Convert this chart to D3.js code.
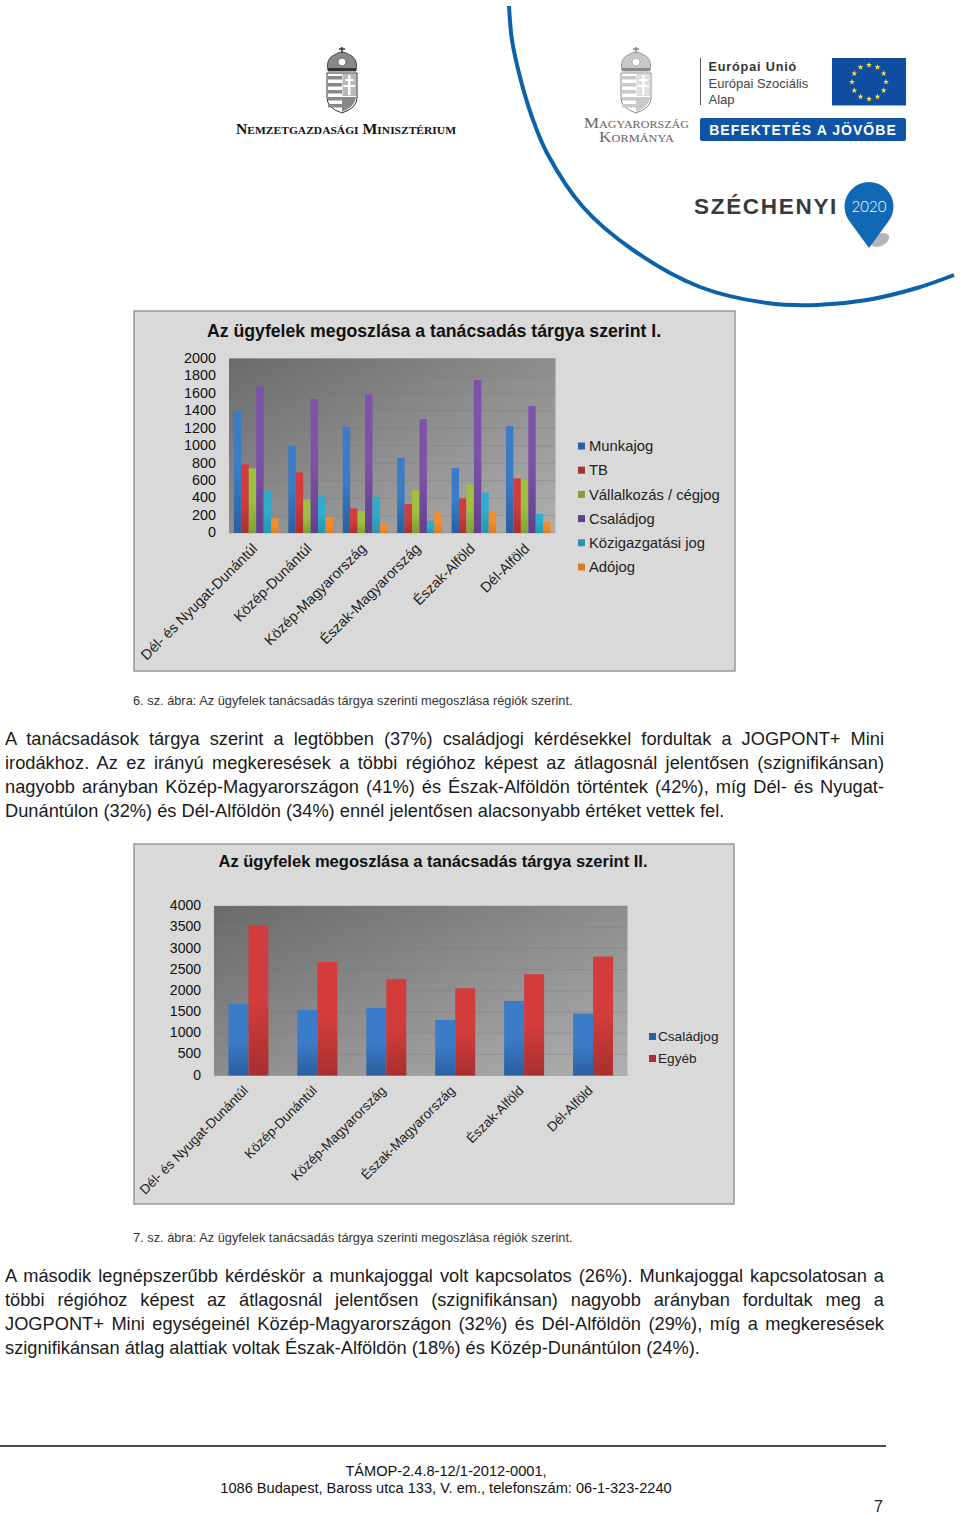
<!DOCTYPE html>
<html>
<head>
<meta charset="utf-8">
<title>Az ügyfelek megoszlása</title>
<script src="https://cdnjs.cloudflare.com/ajax/libs/d3/7.8.5/d3.min.js"></script>
<style>
	html, body { margin: 0; padding: 0; background: #fff; }
	svg { display: block; }
	text { font-family: "Liberation Sans", Arial, sans-serif; }
</style>
</head>
<body>
<svg id="page" width="960" height="1514"></svg>
<script>
/* chart data */
const regions = ["Dél- és Nyugat-Dunántúl", "Közép-Dunántúl", "Közép-Magyarország", "Észak-Magyarország", "Észak-Alföld", "Dél-Alföld"];

const series1 = ["Munkajog", "TB", "Vállalkozás / cégjog", "Családjog", "Közigazgatási jog", "Adójog"];
const munkajog = [1389, 1000, 1218, 863, 744, 1225];
const tb = [786, 695, 282, 332, 397, 626];
const vallalkozas = [740, 385, 252, 492, 557, 610];
const csaladjog = [1675, 1538, 1588, 1305, 1752, 1454];
const kozigazgatasi = [485, 420, 416, 141, 465, 221];
const adojog = [168, 179, 99, 237, 240, 130];

const series2 = ["Családjog", "Egyéb"];
const csaladjog2 = [1690, 1548, 1595, 1312, 1760, 1462];
const egyeb = [3552, 2680, 2271, 2059, 2389, 2805];

const ticks1 = [0, 200, 400, 600, 800, 1000, 1200, 1400, 1600, 1800, 2000];
const ticks2 = [0, 500, 1000, 1500, 2000, 2500, 3000, 3500, 4000];

const title1 = "Az ügyfelek megoszlása a tanácsadás tárgya szerint I.";
const title2 = "Az ügyfelek megoszlása a tanácsadás tárgya szerint II.";
const caption1 = "6. sz. ábra: Az ügyfelek tanácsadás tárgya szerinti megoszlása régiók szerint.";
const caption2 = "7. sz. ábra: Az ügyfelek tanácsadás tárgya szerinti megoszlása régiók szerint.";

const para1 = [
	"A tanácsadások tárgya szerint a legtöbben (37%) családjogi kérdésekkel fordultak a JOGPONT+ Mini",
	"irodákhoz. Az ez irányú megkeresések a többi régióhoz képest az átlagosnál jelentősen (szignifikánsan)",
	"nagyobb arányban Közép-Magyarországon (41%) és Észak-Alföldön történtek (42%), míg Dél- és Nyugat-",
	"Dunántúlon (32%) és Dél-Alföldön (34%) ennél jelentősen alacsonyabb értéket vettek fel."
];
const para2 = [
	"A második legnépszerűbb kérdéskör a munkajoggal volt kapcsolatos (26%). Munkajoggal kapcsolatosan a",
	"többi régióhoz képest az átlagosnál jelentősen (szignifikánsan) nagyobb arányban fordultak meg a",
	"JOGPONT+ Mini egységeinél Közép-Magyarországon (32%) és Dél-Alföldön (29%), míg a megkeresések",
	"szignifikánsan átlag alattiak voltak Észak-Alföldön (18%) és Közép-Dunántúlon (24%)."
];

const barColors = {
	blue: ["#3a7cc8", "#2b5f9f"],
	red: ["#d23c3c", "#a83030"],
	green: ["#9fc040", "#80a036"],
	purple: ["#7d52a8", "#61408c"],
	cyan: ["#2fabcb", "#2793b0"],
	orange: ["#f28c2c", "#da7e26"]
};

const svg = d3.select("#page");
const defs = svg.append("defs");

/* bar gradients: lighter at the top, darker at the base */
Object.keys(barColors).forEach((name) => {
	const g = defs.append("linearGradient")
		.attr("id", "bar-" + name)
		.attr("x1", 0).attr("y1", 0).attr("x2", 0).attr("y2", 1);
	g.append("stop").attr("offset", "0%").attr("stop-color", barColors[name][0]);
	g.append("stop").attr("offset", "50%").attr("stop-color", barColors[name][0]);
	g.append("stop").attr("offset", "100%").attr("stop-color", barColors[name][1]);
});

const plotGrad = defs.append("linearGradient")
	.attr("id", "plot-bg")
	.attr("x1", 0).attr("y1", 0).attr("x2", 1).attr("y2", 1);
plotGrad.append("stop").attr("offset", "0%").attr("stop-color", "#6a6a6a");
plotGrad.append("stop").attr("offset", "100%").attr("stop-color", "#b0b0b0");

function drawChart(opt) {
	const g = svg.append("g").attr("class", "chart");

	g.append("rect")
		.attr("x", opt.panel.x).attr("y", opt.panel.y)
		.attr("width", opt.panel.w).attr("height", opt.panel.h)
		.attr("fill", "#d9d9d9")
		.attr("stroke", "#989898")
		.attr("stroke-width", 1.5);

	g.append("text")
		.attr("x", opt.titleX).attr("y", opt.titleY)
		.attr("text-anchor", "middle")
		.attr("font-weight", "bold")
		.attr("font-size", opt.titleSize)
		.attr("fill", "#111")
		.text(opt.title);

	const x = d3.scaleBand()
		.domain(regions)
		.range([opt.plot.x0, opt.plot.x1])
		.paddingInner(opt.padding)
		.paddingOuter(opt.padding / 2);
	const inner = d3.scaleBand()
		.domain(opt.series)
		.range([0, x.bandwidth()]);
	const y = d3.scaleLinear()
		.domain([0, opt.max])
		.range([opt.plot.y0, opt.plot.y1]);

	g.append("rect")
		.attr("x", opt.plot.x0).attr("y", opt.plot.y1)
		.attr("width", opt.plot.x1 - opt.plot.x0)
		.attr("height", opt.plot.y0 - opt.plot.y1)
		.attr("fill", "url(#plot-bg)");

	g.append("g").selectAll("line")
		.data(opt.ticks)
		.join("line")
		.attr("x1", opt.plot.x0).attr("x2", opt.plot.x1)
		.attr("y1", (d) => y(d)).attr("y2", (d) => y(d))
		.attr("stroke", "#777")
		.attr("stroke-opacity", 0.35);

	const axis = g.append("g")
		.attr("transform", `translate(${opt.plot.x0},-0.8)`)
		.call(d3.axisLeft(y).tickValues(opt.ticks).tickSize(0).tickPadding(opt.tickPad).tickFormat(d3.format("d")));
	axis.select(".domain").remove();
	axis.selectAll("text")
		.attr("font-size", opt.tickSize)
		.attr("font-family", "Liberation Sans")
		.attr("fill", "#111");

	opt.series.forEach((name, i) => {
		g.append("g").selectAll("rect")
			.data(opt.values[i])
			.join("rect")
			.attr("x", (d, j) => x(regions[j]) + inner(name))
			.attr("y", (d) => y(d))
			.attr("width", inner.bandwidth())
			.attr("height", (d) => y(0) - y(d))
			.attr("fill", `url(#bar-${opt.colors[i]})`);
	});

	g.append("g").selectAll("text")
		.data(regions)
		.join("text")
		.attr("transform", (d) => `translate(${x(d) + x.bandwidth() / 2 + opt.labelDx},${opt.plot.y0 + opt.labelDy}) rotate(-45)`)
		.attr("text-anchor", "end")
		.attr("font-size", opt.labelSize)
		.attr("fill", "#222")
		.text((d) => d);

	const legend = g.append("g").selectAll("g")
		.data(opt.series)
		.join("g")
		.attr("transform", (d, i) => `translate(${opt.legend.x},${opt.legend.y + i * opt.legend.step})`);
	legend.append("rect")
		.attr("x", 0).attr("y", -3.5)
		.attr("width", 7).attr("height", 7)
		.attr("fill", (d, i) => barColors[opt.colors[i]][1]);
	legend.append("text")
		.attr("x", opt.legend.dx).attr("dy", "0.35em")
		.attr("font-size", opt.legend.size)
		.attr("fill", "#222")
		.text((d) => d);
}

drawChart({
	panel: { x: 134, y: 311, w: 601, h: 360 },
	plot: { x0: 229, x1: 555.5, y0: 533, y1: 358.5 },
	title: title1, titleX: 434, titleY: 337, titleSize: 17.7,
	series: series1,
	values: [munkajog, tb, vallalkozas, csaladjog, kozigazgatasi, adojog],
	colors: ["blue", "red", "green", "purple", "cyan", "orange"],
	max: 2000, ticks: ticks1,
	padding: 0.18, tickPad: 13, tickSize: 14.4,
	labelDx: 2, labelDy: 16.5, labelSize: 14.4,
	legend: { x: 578, y: 446, step: 24.2, dx: 11, size: 14.8 }
});

drawChart({
	panel: { x: 134, y: 844, w: 600, h: 360 },
	plot: { x0: 214, x1: 627.5, y0: 1075.5, y1: 906 },
	title: title2, titleX: 433, titleY: 867, titleSize: 16.55,
	series: series2,
	values: [csaladjog2, egyeb],
	colors: ["blue", "red"],
	max: 4000, ticks: ticks2,
	padding: 0.42, tickPad: 13, tickSize: 14,
	labelDx: 0.5, labelDy: 16, labelSize: 13.4,
	legend: { x: 649, y: 1036.5, step: 22, dx: 9, size: 13.6 }
});

/* justified body text, spreading each line with word-spacing */
function drawParagraph(lines, top, lastIndex) {
	const g = svg.append("g").attr("class", "body-text");
	lines.forEach((line, i) => {
		const t = g.append("text")
			.attr("x", 5)
			.attr("y", top + i * 24)
			.attr("font-size", 18.25)
			.attr("fill", "#1a1a1a")
			.text(line);
		if (i !== lastIndex) {
			const gaps = line.split(" ").length - 1;
			const extra = (879 - t.node().getComputedTextLength()) / gaps;
			t.attr("word-spacing", extra);
		}
	});
}
drawParagraph(para1, 745, 3);
drawParagraph(para2, 1282, 3);

[[caption1, 705], [caption2, 1242]].forEach((c) => {
	svg.append("text")
		.attr("x", 133).attr("y", c[1])
		.attr("font-size", 12.8)
		.attr("fill", "#333")
		.text(c[0]);
});

/* footer */
svg.append("line")
	.attr("x1", 0).attr("x2", 886)
	.attr("y1", 1446).attr("y2", 1446)
	.attr("stroke", "#111")
	.attr("stroke-width", 1.5);
[["TÁMOP-2.4.8-12/1-2012-0001,", 1476], ["1086 Budapest, Baross utca 133, V. em., telefonszám: 06-1-323-2240", 1493]].forEach((f) => {
	svg.append("text")
		.attr("x", 446).attr("y", f[1])
		.attr("text-anchor", "middle")
		.attr("font-size", 14.6)
		.attr("fill", "#111")
		.text(f[0]);
});
svg.append("text")
	.attr("x", 874).attr("y", 1512)
	.attr("font-size", 16)
	.attr("fill", "#222")
	.text("7");

/* header artwork */
const arcPoints = [[509, 6], [512, 40], [520, 77], [532, 117], [547, 153], [583, 207], [633, 250], [700, 287], [767, 303], [817, 305], [867, 300], [917, 288], [954, 275]];
svg.append("path")
	.attr("d", d3.line().curve(d3.curveCatmullRom)(arcPoints))
	.attr("fill", "none")
	.attr("stroke", "#0b62a8")
	.attr("stroke-width", 4);

function drawArms(cx, dark, light) {
	const g = svg.append("g").attr("transform", `translate(${cx},0)`);
	// shield outline
	g.append("path")
		.attr("d", "M-15,73 H15 V98 Q15,108 0,113 Q-15,108 -15,98 Z")
		.attr("fill", "#fff")
		.attr("stroke", dark)
		.attr("stroke-width", 1);
	// stripes, left half
	[76, 83, 90, 97, 104].forEach((y) => {
		g.append("rect").attr("x", -14).attr("y", y).attr("width", 14).attr("height", 3.5).attr("fill", light);
	});
	// double cross on a tinted right half
	g.append("rect").attr("x", 0.5).attr("y", 74).attr("width", 14).attr("height", 22).attr("fill", light).attr("fill-opacity", 0.6);
	g.append("rect").attr("x", 6).attr("y", 75).attr("width", 2.5).attr("height", 20).attr("fill", "#fff");
	g.append("rect").attr("x", 3).attr("y", 79).attr("width", 8.5).attr("height", 2).attr("fill", "#fff");
	g.append("rect").attr("x", 1.5).attr("y", 85).attr("width", 11.5).attr("height", 2).attr("fill", "#fff");
	g.append("path").attr("d", "M0,97 H14 Q13,107 0,112 Z").attr("fill", light);
	// crown
	g.append("path")
		.attr("d", "M-14,71 Q-17,58 -6,54 Q0,50 6,54 Q17,58 14,71 Z")
		.attr("fill", light)
		.attr("stroke", dark)
		.attr("stroke-width", 0.8);
	g.append("circle").attr("cx", 0).attr("cy", 62).attr("r", 4).attr("fill", "#fff").attr("stroke", dark).attr("stroke-width", 0.6);
	g.append("rect").attr("x", -14).attr("y", 68).attr("width", 28).attr("height", 3).attr("fill", dark);
	g.append("path")
		.attr("d", "M0,53 V47 M-3,49 L3,49")
		.attr("stroke", dark)
		.attr("stroke-width", 1.5);
}
drawArms(342, "#333", "#888");
drawArms(636, "#8a8a8a", "#c9c9c9");

function serifCaps(text, x, y, size, weight, fill, width) {
	const t = svg.append("text")
		.attr("x", x).attr("y", y)
		.attr("text-anchor", "middle")
		.attr("font-variant", "small-caps")
		.attr("font-size", size)
		.attr("font-weight", weight)
		.attr("fill", fill)
		.style("font-family", "'Liberation Serif', serif")
		.text(text);
	if (width) t.attr("textLength", width).attr("lengthAdjust", "spacingAndGlyphs");
}
serifCaps("Nemzetgazdasági Minisztérium", 346, 134, 15, "bold", "#111", 220);
serifCaps("Magyarország", 636.5, 128, 14, "normal", "#666", 105);
serifCaps("Kormánya", 636.5, 142, 14, "normal", "#666", 75);

svg.append("line")
	.attr("x1", 700.5).attr("x2", 700.5)
	.attr("y1", 58).attr("y2", 105)
	.attr("stroke", "#555");
[["Európai Unió", 70.5, "bold", "#333", 12.6], ["Európai Szociális", 87.5, "normal", "#444", 13], ["Alap", 103.5, "normal", "#444", 13]].forEach((r) => {
	svg.append("text")
		.attr("x", 708.5).attr("y", r[1])
		.attr("font-weight", r[2])
		.attr("fill", r[3])
		.attr("font-size", r[4])
		.attr("letter-spacing", r[2] === "bold" ? 0.85 : 0)
		.text(r[0]);
});

svg.append("rect")
	.attr("x", 832).attr("y", 58)
	.attr("width", 74).attr("height", 47.5)
	.attr("fill", "#0f4da0");
svg.append("g").selectAll("path")
	.data(d3.range(12))
	.join("path")
	.attr("d", d3.symbol().type(d3.symbolStar).size(11))
	.attr("transform", (d) => {
		const a = d / 12 * 2 * Math.PI;
		return `translate(${869 + 17 * Math.sin(a)},${82 - 17 * Math.cos(a)})`;
	})
	.attr("fill", "#ffe23a");

svg.append("rect")
	.attr("x", 700).attr("y", 118)
	.attr("width", 206).attr("height", 23)
	.attr("rx", 2)
	.attr("fill", "#0f54a5");
svg.append("text")
	.attr("x", 803).attr("y", 135)
	.attr("text-anchor", "middle")
	.attr("font-size", 14)
	.attr("font-weight", "bold")
	.attr("letter-spacing", 1.05)
	.attr("fill", "#fff")
	.text("BEFEKTETÉS A JÖVŐBE");

svg.append("text")
	.attr("x", 694).attr("y", 214)
	.attr("font-size", 22.5)
	.attr("font-weight", "bold")
	.attr("letter-spacing", 1.7)
	.attr("fill", "#3a3a3a")
	.text("SZÉCHENYI");

// map pin with its shadow
svg.append("ellipse")
	.attr("cx", 880).attr("cy", 240)
	.attr("rx", 10).attr("ry", 6)
	.attr("transform", "rotate(-25 880 240)")
	.attr("fill", "#b5b5b5");
svg.append("path")
	.attr("d", "M869,248 L850,222 A24.5,24.5 0 1 1 888,222 Z")
	.attr("fill", "#1168b4");
svg.append("text")
	.attr("x", 869).attr("y", 212)
	.attr("text-anchor", "middle")
	.attr("font-size", 15)
	.attr("fill", "#fff")
	.style("font-family", "Lato, sans-serif")
	.style("font-weight", 300)
	.text("2020");
</script>
</body>
</html>
